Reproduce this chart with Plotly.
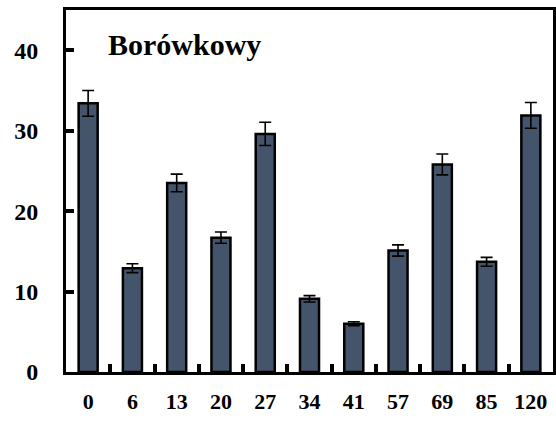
import plotly.graph_objects as go

# Sample labels (days) and measured values with standard errors
days = ["0", "6", "13", "20", "27", "34", "41", "57", "69", "85", "120"]
values = [33.4, 12.9, 23.5, 16.7, 29.6, 9.1, 6.0, 15.1, 25.8, 13.7, 31.9]
errors = [1.6, 0.55, 1.1, 0.7, 1.45, 0.4, 0.25, 0.7, 1.3, 0.55, 1.6]
y_ticks = [0, 10, 20, 30, 40]

serif = "Liberation Serif"

# slot index for each sample; labels come from `days`
slots = list(range(len(days)))
boundaries = [i + 0.5 for i in slots[:-1]]

fig = go.Figure(
    go.Bar(
        x=slots,
        y=values,
        width=0.43,
        marker=dict(color="#44546A", line=dict(color="black", width=2.5)),
        error_y=dict(type="data", array=errors, visible=True,
                     color="black", thickness=1.6, width=6),
    )
)

fig.update_layout(
    width=556,
    height=421,
    margin=dict(l=66, r=3, t=10, b=49),
    paper_bgcolor="white",
    plot_bgcolor="white",
    showlegend=False,
    xaxis=dict(
        range=[-0.5, len(days) - 0.5],
        tickvals=slots, ticktext=days,
        showline=True, linecolor="black", linewidth=3, mirror=True,
        ticks="", tickangle=0,
        minor=dict(tickvals=boundaries, ticks="inside", ticklen=8,
                   tickwidth=4, tickcolor="black", showgrid=False),
        tickfont=dict(family=serif, size=22, color="black", weight="bold"),
        ticklabelstandoff=8,
        showgrid=False, zeroline=False, automargin=False,
    ),
    yaxis=dict(
        range=[0, 45],
        tickvals=y_ticks,
        showline=True, linecolor="black", linewidth=3, mirror=True,
        ticks="inside", ticklen=8, tickwidth=4, tickcolor="black",
        tickfont=dict(family=serif, size=24, color="black", weight="bold"),
        ticklabelstandoff=20,
        showgrid=False, zeroline=False, automargin=False,
    ),
    annotations=[
        dict(text="Borówkowy", xref="paper", yref="paper",
             x=0.082, y=0.906, xanchor="left", yanchor="middle",
             showarrow=False,
             font=dict(family=serif, size=30, color="black", weight="bold"))
    ],
)

fig.write_html("out.html")
